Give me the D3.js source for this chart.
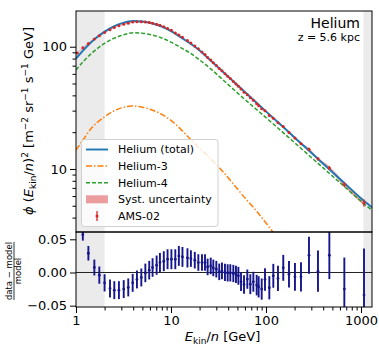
<!DOCTYPE html>
<html><head><meta charset="utf-8">
<script src="https://cdn.jsdelivr.net/npm/d3@7"></script>
<style>
html,body{margin:0;padding:0;background:#fff;}
svg{display:block;font-family:"DejaVu Sans",sans-serif;}
</style></head>
<body>
<script>
// ---- model curves ----
const modelE   = [1, 1.2, 1.5, 2, 2.5, 3, 4, 5, 6, 8, 10, 12.5, 15.8, 20, 25.8, 40, 60, 100, 200, 400, 700, 1000, 1306];
const heTotal  = [80, 94, 112, 133, 147, 155, 162.5, 161, 157, 146, 134, 120, 106.6, 93, 77.8, 56.9, 42.6, 29.6, 18.1, 11.04, 7.42, 5.76, 4.85];
const he4      = [64.5, 76, 90, 106.6, 117, 123.5, 130, 129, 126, 118, 109, 99, 89, 78, 66.5, 49, 37, 26.3, 16.4, 10.2, 6.95, 5.45, 4.6];
const he3E     = [1, 1.2, 1.4, 2, 2.5, 3, 3.9, 5, 6, 8, 10, 16.3, 20, 32.8, 42, 60, 80, 118, 200];
const he3      = [14.3, 17.5, 20.8, 26.7, 29.8, 31.6, 32.7, 32, 30.8, 28, 25, 17.3, 14.8, 10.1, 8.1, 5.8, 4.5, 3.05, 1.75];

// ---- AMS-02 data ----
const amsE = [1.03, 1.18, 1.35, 1.56, 1.76, 2.0, 2.28, 2.53,
  2.83, 3.18, 3.55, 3.95, 4.38, 4.87, 5.37, 5.9,
  6.4, 7.06, 7.65, 8.4, 9.2, 10.1, 11.1, 12.1,
  13.2, 14.9, 16.2, 17.8, 19.4, 21.2, 22.8, 24.3,
  26.2, 27.9, 30.0, 32.2, 34.4, 37.0, 39.5, 42.1,
  45.3, 48.3, 51.2, 54.6, 58.7, 63.6, 68.4, 73.6,
  79.8, 83.7, 90.1, 97.6, 108.4, 119.4, 133.7, 152,
  174.6, 201.8, 233.5, 283.5, 352.6, 464.5, 668, 1076];
const amsFlux = [89, 97.9, 106.1, 115.6, 122.7, 130.9, 137.6, 143.6,
  148.3, 152.5, 155.5, 159.4, 160.3, 159.9, 159.3, 158,
  155.7, 152.4, 149.9, 145.7, 141.2, 136.1, 129.8, 125,
  119.4, 112.2, 107.3, 101.3, 96.1, 90.6, 86.2, 81.8,
  77.8, 74.1, 70.2, 66.5, 63.6, 60.2, 57.4, 54.9,
  52.0, 49.6, 47.5, 45.0, 42.5, 40.5, 38.2, 36.4,
  34.1, 32.9, 31.1, 29.9, 27.4, 26.0, 23.9, 22.2,
  19.9, 17.9, 16.1, 14.5, 12.1, 10.2, 7.48, 5.27];
const residual = [0.085, 0.057, 0.029, 0.0075, -0.004, -0.0156, -0.024, -0.0266,
  -0.0266, -0.025, -0.0225, -0.0156, -0.0105, -0.0075, -0.0006, 0.0035,
  0.0075, 0.011, 0.015, 0.017, 0.020, 0.020, 0.020, 0.025,
  0.0235, 0.022, 0.021, 0.0185, 0.015, 0.015, 0.015, 0.0084,
  0.0099, 0.0069, 0.005, 0.001, 0.0024, 0, -0.0006, -0.0006,
  -0.0015, -0.003, -0.005, -0.014, -0.018, -0.010, -0.0176, -0.014,
  -0.019, -0.0216, -0.025, -0.0105, -0.023, -0.005, -0.009, 0.007,
  -0.0026, -0.0066, -0.0066, 0.026, 0.002, 0.026, -0.025, -0.034];
const relErr = [0.012, 0.009, 0.011, 0.012, 0.013, 0.013, 0.0135, 0.0135,
  0.0135, 0.0135, 0.0135, 0.0135, 0.0135, 0.0135, 0.014, 0.014,
  0.014, 0.0145, 0.0145, 0.015, 0.015, 0.015, 0.015, 0.015,
  0.015, 0.0145, 0.0125, 0.0125, 0.0125, 0.0125, 0.0125, 0.0125,
  0.0125, 0.0125, 0.0125, 0.0125, 0.0125, 0.013, 0.013, 0.013,
  0.013, 0.013, 0.0135, 0.014, 0.014, 0.0145, 0.015, 0.015,
  0.0155, 0.016, 0.016, 0.017, 0.0175, 0.018, 0.019, 0.0195,
  0.02, 0.021, 0.022, 0.028, 0.031, 0.036, 0.0475, 0.07];
const relSyst = [0.01, 0.008, 0.009, 0.01, 0.01, 0.01, 0.01, 0.01,
  0.01, 0.01, 0.01, 0.01, 0.01, 0.01, 0.01, 0.01,
  0.01, 0.01, 0.01, 0.01, 0.01, 0.01, 0.01, 0.01,
  0.01, 0.01, 0.01, 0.01, 0.01, 0.01, 0.01, 0.01,
  0.01, 0.01, 0.01, 0.01, 0.01, 0.01, 0.01, 0.01,
  0.01, 0.01, 0.011, 0.011, 0.012, 0.012, 0.012, 0.013,
  0.013, 0.013, 0.014, 0.014, 0.015, 0.015, 0.016, 0.017,
  0.018, 0.02, 0.022, 0.025, 0.028, 0.032, 0.04, 0.05];

// shaded ranges and ticks
const shadeRanges = [[1, 2], [1060, 1306]];
const xMajor = [1, 10, 100, 1000];
const xMinor = [2,3,4,5,6,7,8,9,20,30,40,50,60,70,80,90,200,300,400,500,600,700,800,900];
const yMajor = [10, 100];
const yMinor = [4,5,6,7,8,9,20,30,40,50,60,70,80,90];
const rTicks = [-0.05, 0, 0.05];
const rLabels = ["\u22120.05", "0.00", "0.05"];
const legendItems = ["Helium (total)", "Helium-3", "Helium-4", "Syst. uncertainty", "AMS-02"];

const C = {blue:"#1f77b4", orange:"#ff7f0e", green:"#2ca02c", red:"#d62728", navy:"#16168c", shade:"#ebebeb"};

const W = 379, H = 348;
const L = 76, R = 372, T = 11, M = 232, B = 307;

const svg = d3.select("body").append("svg").attr("width", W).attr("height", H);

const x = d3.scaleLog().domain([1, 1306]).range([L, R]);
const y = d3.scaleLog().domain([3.05, 196]).range([M, T]);
const yr = d3.scaleLinear().domain([-0.052, 0.061]).range([B, M]);

const defs = svg.append("defs");
defs.append("clipPath").attr("id","cm").append("rect").attr("x",L).attr("y",T).attr("width",R-L).attr("height",M-T);
defs.append("clipPath").attr("id","cr").append("rect").attr("x",L).attr("y",M).attr("width",R-L).attr("height",B-M);

// ---------- main panel ----------
const gm = svg.append("g").attr("clip-path","url(#cm)");
gm.selectAll("rect.sh").data(shadeRanges).join("rect")
  .attr("x", d => x(d[0])).attr("width", d => x(d[1]) - x(d[0]))
  .attr("y", T).attr("height", M - T).attr("fill", C.shade);

const idx = d3.range(amsE.length);
const band = d3.area()
  .x(i => x(amsE[i]))
  .y0(i => y(amsFlux[i] * (1 - relSyst[i])))
  .y1(i => y(amsFlux[i] * (1 + relSyst[i])))
  .curve(d3.curveMonotoneX);
gm.append("path").attr("d", band(idx)).attr("fill", C.red).attr("opacity", 0.45);

const lineM = (xs, ys) => d3.line().x(i => x(xs[i])).y(i => y(ys[i])).curve(d3.curveMonotoneX)(d3.range(xs.length));
gm.append("path").attr("d", lineM(modelE, heTotal)).attr("fill","none").attr("stroke",C.blue).attr("stroke-width",1.9);
gm.append("path").attr("d", lineM(he3E, he3)).attr("fill","none").attr("stroke",C.orange).attr("stroke-width",1.5).attr("stroke-dasharray","6,2,1.5,2");
gm.append("path").attr("d", lineM(modelE, he4)).attr("fill","none").attr("stroke",C.green).attr("stroke-width",1.5).attr("stroke-dasharray","4,2");

const dg = gm.append("g");
dg.selectAll("line").data(idx).join("line")
  .attr("x1", i => x(amsE[i])).attr("x2", i => x(amsE[i]))
  .attr("y1", i => y(amsFlux[i] * (1 - relErr[i]))).attr("y2", i => y(amsFlux[i] * (1 + relErr[i])))
  .attr("stroke", C.red).attr("stroke-width", 1.3);
dg.selectAll("circle").data(idx).join("circle")
  .attr("cx", i => x(amsE[i])).attr("cy", i => y(amsFlux[i])).attr("r", 1.5).attr("fill", C.red);

// ---------- ratio panel ----------
const gr = svg.append("g").attr("clip-path","url(#cr)");
gr.selectAll("rect.sh").data(shadeRanges).join("rect")
  .attr("x", d => x(d[0])).attr("width", d => x(d[1]) - x(d[0]))
  .attr("y", M).attr("height", B - M).attr("fill", C.shade);
gr.append("line").attr("x1",L).attr("x2",R).attr("y1",yr(0)).attr("y2",yr(0)).attr("stroke","#222").attr("stroke-width",1);
gr.selectAll("line.e").data(idx).join("line").attr("class","e")
  .attr("x1", i => x(amsE[i])).attr("x2", i => x(amsE[i]))
  .attr("y1", i => yr(residual[i] - relErr[i])).attr("y2", i => yr(residual[i] + relErr[i]))
  .attr("stroke", C.navy).attr("stroke-width", 1.9);
gr.selectAll("circle").data(idx).join("circle")
  .attr("cx", i => x(amsE[i])).attr("cy", i => yr(residual[i])).attr("r", 1.4).attr("fill", C.navy);

// ---------- frames ----------
svg.append("rect").attr("x",L).attr("y",T).attr("width",R-L).attr("height",M-T).attr("fill","none").attr("stroke","#000").attr("stroke-width",1);
svg.append("rect").attr("x",L).attr("y",M).attr("width",R-L).attr("height",B-M).attr("fill","none").attr("stroke","#000").attr("stroke-width",1);

// ---------- axes ----------
function styleAxis(g){ g.select(".domain").remove(); g.selectAll("line").attr("stroke","#000"); g.selectAll("text").attr("font-size",13).attr("fill","#000").attr("font-family","DejaVu Sans"); }
svg.append("g").attr("transform",`translate(${L},0)`)
  .call(d3.axisLeft(y).tickValues(yMajor).tickFormat(d3.format("d")).tickSize(6).tickPadding(3)).call(styleAxis);
svg.append("g").attr("transform",`translate(${L},0)`)
  .call(d3.axisLeft(y).tickValues(yMinor).tickFormat("").tickSize(3.5)).call(styleAxis);
svg.append("g").attr("transform",`translate(${L},0)`)
  .call(d3.axisLeft(yr).tickValues(rTicks).tickFormat((d,i) => rLabels[i]).tickSize(6).tickPadding(3)).call(styleAxis);
svg.append("g").attr("transform",`translate(0,${B})`)
  .call(d3.axisBottom(x).tickValues(xMajor).tickFormat(d3.format("d")).tickSize(6).tickPadding(3)).call(styleAxis);
svg.append("g").attr("transform",`translate(0,${B})`)
  .call(d3.axisBottom(x).tickValues(xMinor).tickFormat("").tickSize(3.5)).call(styleAxis);

// ---------- annotations ----------
svg.append("text").attr("x",360).attr("y",28).attr("text-anchor","end").attr("font-size",14).text("Helium");
svg.append("text").attr("x",360).attr("y",41).attr("text-anchor","end").attr("font-size",11).text("z = 5.6 kpc");

// ---------- legend ----------
const lg = svg.append("g");
lg.append("rect").attr("x",81.5).attr("y",139.5).attr("width",136.5).attr("height",87).attr("rx",3)
  .attr("fill","#fff").attr("fill-opacity",0.8).attr("stroke","#d0d0d0").attr("stroke-width",1);
const rowY = i => 149.5 + i * 16.6;
lg.append("line").attr("x1",86).attr("x2",108).attr("y1",rowY(0)).attr("y2",rowY(0)).attr("stroke",C.blue).attr("stroke-width",1.9);
lg.append("line").attr("x1",86).attr("x2",108).attr("y1",rowY(1)).attr("y2",rowY(1)).attr("stroke",C.orange).attr("stroke-width",1.5).attr("stroke-dasharray","6,2,1.5,2");
lg.append("line").attr("x1",86).attr("x2",108).attr("y1",rowY(2)).attr("y2",rowY(2)).attr("stroke",C.green).attr("stroke-width",1.5).attr("stroke-dasharray","4,2");
lg.append("rect").attr("x",86).attr("y",rowY(3)-4).attr("width",22).attr("height",8).attr("fill",C.red).attr("opacity",0.45);
lg.append("line").attr("x1",97).attr("x2",97).attr("y1",rowY(4)-5).attr("y2",rowY(4)+5).attr("stroke",C.red).attr("stroke-width",1.3);
lg.append("circle").attr("cx",97).attr("cy",rowY(4)).attr("r",1.5).attr("fill",C.red);
lg.selectAll("text").data(legendItems).join("text")
  .attr("x",118).attr("y",(d,i) => rowY(i)).attr("dy","0.36em").attr("font-size",11).text(d => d);

// ---------- axis labels ----------
const yl = svg.append("text").attr("transform","translate(33,121) rotate(-90)").attr("text-anchor","middle").attr("font-size",13);
yl.append("tspan").attr("font-style","italic").text("ϕ");
yl.append("tspan").text(" (");
yl.append("tspan").attr("font-style","italic").text("E");
yl.append("tspan").attr("font-size",9).attr("dy",3).text("kin");
yl.append("tspan").attr("dy",-3).text("/");
yl.append("tspan").attr("font-style","italic").text("n");
yl.append("tspan").text(")");
yl.append("tspan").attr("font-size",9).attr("dy",-5).text("2");
yl.append("tspan").attr("dy",5).text("  [m");
yl.append("tspan").attr("font-size",9).attr("dy",-5).text("\u22122");
yl.append("tspan").attr("dy",5).text(" sr");
yl.append("tspan").attr("font-size",9).attr("dy",-5).text("\u22121");
yl.append("tspan").attr("dy",5).text(" s");
yl.append("tspan").attr("font-size",9).attr("dy",-5).text("\u22121");
yl.append("tspan").attr("dy",5).text(" GeV]");

const rl = svg.append("g").attr("transform","translate(14,271) rotate(-90)");
rl.append("text").attr("x",0).attr("y",-1.6).attr("text-anchor","middle").attr("font-size",8.5).text("data \u2212 model");
rl.append("line").attr("x1",-29).attr("x2",29).attr("y1",0).attr("y2",0).attr("stroke","#000").attr("stroke-width",0.8);
rl.append("text").attr("x",0).attr("y",7).attr("text-anchor","middle").attr("font-size",8.5).text("model");

const xl = svg.append("text").attr("x",222.5).attr("y",341).attr("text-anchor","middle").attr("font-size",13);
xl.append("tspan").attr("font-style","italic").text("E");
xl.append("tspan").attr("font-size",9).attr("dy",3).text("kin");
xl.append("tspan").attr("dy",-3).text("/");
xl.append("tspan").attr("font-style","italic").text("n");
xl.append("tspan").text(" [GeV]");
</script>
</body></html>
